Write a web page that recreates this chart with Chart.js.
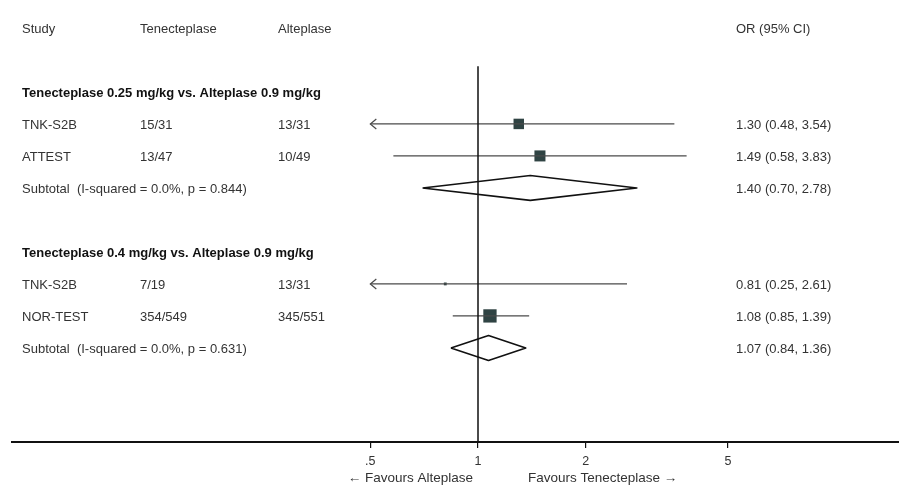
<!DOCTYPE html>
<html>
<head>
<meta charset="utf-8">
<title>Forest plot</title>
<script src="https://cdn.jsdelivr.net/npm/chart.js@4/dist/chart.umd.min.js"></script>
<style>
  html, body { margin: 0; padding: 0; background: #fff; }
  #wrap { width: 899px; height: 494px; }
</style>
</head>
<body>
<div id="wrap"><canvas id="forest" width="899" height="494"></canvas></div>
<script>
/* forest plot: tenecteplase vs alteplase */

// studies
const studies = ["TNK-S2B", "ATTEST", "TNK-S2B", "NOR-TEST"];
const studyRows = [1, 2, 6, 7];
const tnkEvents = ["15/31", "13/47", "7/19", "354/549"];
const altEvents = ["13/31", "10/49", "13/31", "345/551"];
const orEst = [1.30, 1.49, 0.81, 1.08];
const orLow = [0.48, 0.58, 0.25, 0.85];
const orHigh = [3.54, 3.83, 2.61, 1.39];

// subgroups
const groupTitles = [
  "Tenecteplase 0.25 mg/kg vs. Alteplase 0.9 mg/kg",
  "Tenecteplase 0.4 mg/kg vs. Alteplase 0.9 mg/kg"
];
const groupRows = [0, 5];
const subtotalLabels = [
  "Subtotal  (I-squared = 0.0%, p = 0.844)",
  "Subtotal  (I-squared = 0.0%, p = 0.631)"
];
const subtotalRows = [3, 8];
const subEst = [1.40, 1.07];
const subLow = [0.70, 0.84];
const subHigh = [2.78, 1.36];

// axis
const tickValues = [0.5, 1, 2, 5];
const tickLabels = [".5", "1", "2", "5"];
const clipMin = 0.5, clipMax = 5;
const headers = ["Study", "Tenecteplase", "Alteplase", "OR (95% CI)"];
const favoursLeft = "\u2190 Favours Alteplase";
const favoursRight = "Favours Tenecteplase \u2192";

const FONT = "'Liberation Sans', Arial, sans-serif";
const boxRadius = [7.4, 7.8, 2.0, 9.4];   // marker size ~ study weight
const diamondHalf = 0.39;

function fmt(v) { return v.toFixed(2); }

/* -------- datasets -------- */
const datasets = [];

// null line at OR = 1
datasets.push({
  type: "line",
  data: [{ x: 1, y: -0.8 }, { x: 1, y: 11 }],
  borderColor: "#111", borderWidth: 1.5, pointRadius: 0
});

// confidence intervals (clipped to axis range)
studies.forEach((s, i) => {
  datasets.push({
    type: "line",
    data: [
      { x: Math.max(orLow[i], clipMin), y: studyRows[i] },
      { x: Math.min(orHigh[i], clipMax), y: studyRows[i] }
    ],
    borderColor: "#4a4a4a", borderWidth: 1.2, pointRadius: 0
  });
});

// weighted boxes
datasets.push({
  type: "scatter",
  data: studies.map((s, i) => ({ x: orEst[i], y: studyRows[i] })),
  pointStyle: "rect",
  pointRadius: boxRadius,
  backgroundColor: "#2f4343",
  borderColor: "#2f4343",
  borderWidth: 0
});

// subtotal diamonds
subEst.forEach((e, i) => {
  const r = subtotalRows[i];
  datasets.push({
    type: "line",
    data: [
      { x: subLow[i], y: r },
      { x: e, y: r - diamondHalf },
      { x: subHigh[i], y: r },
      { x: e, y: r + diamondHalf },
      { x: subLow[i], y: r }
    ],
    borderColor: "#111", borderWidth: 1.6, borderJoinStyle: "round",
    pointRadius: 0, tension: 0
  });
});

/* -------- text + arrows plugin -------- */
const forestText = {
  id: "forestText",
  afterDraw(chart) {
    const ctx = chart.ctx;
    const xs = chart.scales.x, ys = chart.scales.y;
    const colX = [22, 140, 278, 736];
    const rowY = (r) => ys.getPixelForValue(r) + 1.5;
    ctx.save();
    ctx.textBaseline = "middle";
    ctx.textAlign = "left";

    ctx.fillStyle = "#333";
    ctx.font = "13px " + FONT;
    headers.forEach((h, i) => ctx.fillText(h, colX[i], rowY(-2)));

    ctx.fillStyle = "#111";
    ctx.font = "bold 13px " + FONT;
    groupTitles.forEach((t, i) => ctx.fillText(t, colX[0], rowY(groupRows[i])));

    ctx.fillStyle = "#333";
    ctx.font = "13px " + FONT;
    studies.forEach((s, i) => {
      const y = rowY(studyRows[i]);
      ctx.fillText(s, colX[0], y);
      ctx.fillText(tnkEvents[i], colX[1], y);
      ctx.fillText(altEvents[i], colX[2], y);
      ctx.fillText(`${fmt(orEst[i])} (${fmt(orLow[i])}, ${fmt(orHigh[i])})`, colX[3], y);
    });
    subtotalLabels.forEach((t, i) => {
      const y = rowY(subtotalRows[i]);
      ctx.fillText(t, colX[0], y);
      ctx.fillText(`${fmt(subEst[i])} (${fmt(subLow[i])}, ${fmt(subHigh[i])})`, colX[3], y);
    });

    // arrows where CI runs off the axis
    ctx.strokeStyle = "#4a4a4a";
    ctx.lineWidth = 1.2;
    studies.forEach((s, i) => {
      const y = ys.getPixelForValue(studyRows[i]);
      if (orLow[i] < clipMin) {
        const x = xs.getPixelForValue(clipMin);
        ctx.beginPath();
        ctx.moveTo(x + 6, y - 5); ctx.lineTo(x, y); ctx.lineTo(x + 6, y + 5);
        ctx.stroke();
      }
      if (orHigh[i] > clipMax) {
        const x = xs.getPixelForValue(clipMax);
        ctx.beginPath();
        ctx.moveTo(x - 6, y - 5); ctx.lineTo(x, y); ctx.lineTo(x - 6, y + 5);
        ctx.stroke();
      }
    });

    // favours labels
    const x1 = xs.getPixelForValue(1);
    const yb = 478;
    ctx.font = "13.5px " + FONT;
    ctx.fillStyle = "#333";
    ctx.textAlign = "right";
    ctx.fillText(favoursLeft, x1 - 5, yb);
    ctx.textAlign = "left";
    ctx.fillText(favoursRight, x1 + 50, yb);
    ctx.restore();
  }
};

/* -------- chart -------- */
new Chart(document.getElementById("forest"), {
  data: { datasets },
  options: {
    responsive: false,
    animation: false,
    events: [],
    layout: { autoPadding: false, padding: { left: 12, right: 0, top: 0, bottom: 0 } },
    plugins: { legend: { display: false }, tooltip: { enabled: false } },
    scales: {
      x: {
        type: "logarithmic",
        position: "bottom",
        min: 0.0498,
        max: 15.03,
        afterBuildTicks(scale) { scale.ticks = tickValues.map(v => ({ value: v })); },
        afterFit(scale) { scale.height = 52; },
        ticks: {
          autoSkip: false,
          maxRotation: 0,
          padding: 6,
          color: "#333",
          font: { family: FONT, size: 12.5 },
          callback: (v) => { const k = tickValues.indexOf(v); return k >= 0 ? tickLabels[k] : ""; }
        },
        grid: { drawOnChartArea: false, drawTicks: true, tickLength: 6, color: "#111", lineWidth: 1.2 },
        border: { display: true, color: "#111", width: 2 }
      },
      y: {
        type: "linear",
        reverse: true,
        min: -2.8725,
        max: 10.94,
        display: false
      }
    }
  },
  plugins: [forestText]
});
</script>
</body>
</html>
